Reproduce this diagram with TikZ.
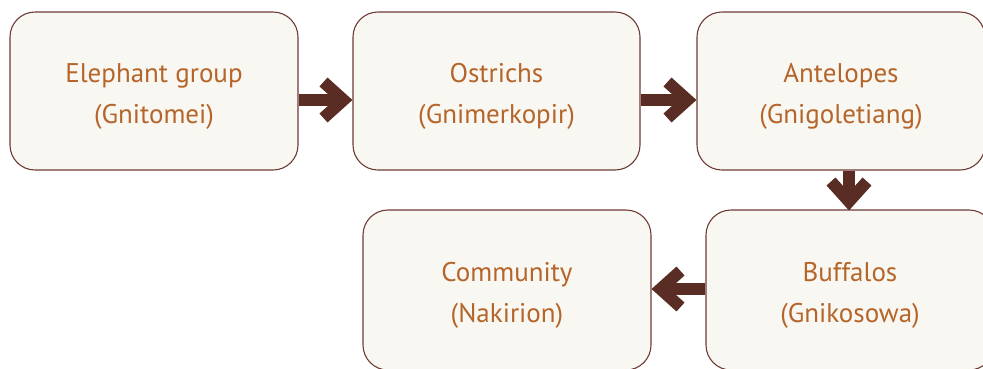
\documentclass[tikz,border=0pt]{standalone}
\usepackage{fontspec}
\setmainfont{PT Sans}
\usetikzlibrary{arrows.meta}
\definecolor{boxfill}{HTML}{F9F7F2}
\definecolor{boxline}{HTML}{6E3B36}
\definecolor{txt}{HTML}{B5652A}
\definecolor{arr}{HTML}{5A2D24}
\newcommand\toppad{\rule{0pt}{30pt}}
\begin{document}
\begin{tikzpicture}[x=1pt,y=-1pt,
  box/.style={draw=boxline, fill=boxfill, line width=1.1pt, rounded corners=25pt,
    minimum width=288pt, minimum height=158pt, align=center, text=txt,
    font=\fontsize{27}{40.5}\selectfont, inner sep=0pt},
  conn/.style={draw=arr, line width=12pt,
    -{Straight Barb[length=20pt, width=36pt, line join=miter, line cap=butt]}}]
\useasboundingbox[fill=white] (0,0) rectangle (983,368);
\node[box] (b1) at (154,91) {\toppad Elephant group\\(Gnitomei)};
\node[box, minimum width=287pt] (b2) at (496.5,91) {\toppad Ostrichs\\(Gnimerkopir)};
\node[box] (b3) at (841,91) {\toppad Antelopes\\(Gnigoletiang)};
\node[box, minimum height=160pt] (b4) at (507,290) {\toppad Community\\(Nakirion)};
\node[box, minimum height=160pt] (b5) at (850,290) {\toppad Buffalos\\(Gnikosowa)};
\draw[conn] ([yshift=-9pt]b1.east) -- ([yshift=-9pt]b2.west);
\draw[conn] ([yshift=-9pt]b2.east) -- ([yshift=-9pt]b3.west);
\draw[conn] (b3.south -| 849,0) -- ([yshift=-1pt]b5.north -| 849,0);
\draw[conn] ([yshift=1pt]b5.west) -- ([yshift=1pt]b4.east);
\end{tikzpicture}
\end{document}
